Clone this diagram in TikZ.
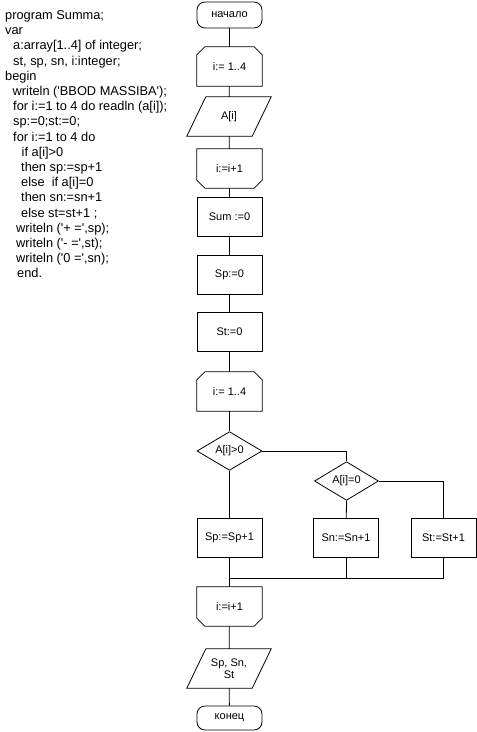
\documentclass[tikz,border=0pt]{standalone}
\usepackage{fontspec}
\setmainfont{Liberation Sans}
\newfontfamily\codefont{Liberation Sans}
\usetikzlibrary{shapes.geometric}
\begin{document}
\begin{tikzpicture}[x=1pt,y=-1pt,
  lw/.style={line width=0.8pt},
  code/.style={anchor=base west, inner sep=0pt, font=\codefont\fontsize{12.8}{15}\selectfont},
  base/.style={minimum width=65pt, minimum height=39pt, inner sep=0pt, align=center, font=\fontsize{11}{12.5}\selectfont},
  blk/.style={base, draw, lw},
  term/.style={base, draw, lw, rounded corners=8pt, minimum height=26pt},
  shp/.style={base, draw=none},
  para/.style={base, draw=none, minimum width=84pt},
  dec/.style={base, draw, lw, diamond, minimum height=38pt},
  conn/.style={lw}
]
\useasboundingbox (0,0) rectangle (477,732);

% code listing
\node[code] (c1)  at (5,19.5)   {program Summa;};
\node[code] (c2)  at (5,34.7)   {var};
\node[code] (c3)  at (13,49.9)  {a:array[1..4] of integer;};
\node[code] (c4)  at (13,65.1)  {st, sp, sn, i:integer;};
\node[code] (c5)  at (5,80.3)   {begin};
\node[code] (c6)  at (12.5,95.5) {writeln ('BBOD MASSIBA');};
\node[code] (c7)  at (13,110.6) {for i:=1 to 4 do readln (a[i]);};
\node[code] (c8)  at (13,125.8) {sp:=0;st:=0;};
\node[code] (c9)  at (13,141.0) {for i:=1 to 4 do};
\node[code] (c10) at (21.5,156.2) {if a[i]>0};
\node[code] (c11) at (21,171.4) {then sp:=sp+1};
\node[code] (c12) at (21,186.6) {else\ \ if a[i]=0};
\node[code] (c13) at (21,201.8) {then sn:=sn+1};
\node[code] (c14) at (21,217.0) {else st=st+1 ;};
\node[code] (c15) at (16,232.2) {writeln ('+ =',sp);};
\node[code] (c16) at (16,247.4) {writeln ('- =',st);};
\node[code] (c17) at (16,262.5) {writeln ('0 =',sn);};
\node[code] (c18) at (17,277.7) {end.};

% flowchart nodes
\node[term] (start) at (229.5,15)    {начало};
\node[shp]  (L1)    at (229.5,66.5)  {i:= 1..4};
\node[para] (A)     at (229,116.5)   {A[i]};
\node[shp]  (E1)    at (229.5,168.5) {i:=i+1};
\node[blk]  (Sum)   at (229.5,217)   {Sum :=0};
\node[blk]  (Sp0)   at (229.5,275)   {Sp:=0};
\node[blk]  (St0)   at (229.5,331.5) {St:=0};
\node[shp]  (L2)    at (229.5,391.5) {i:= 1..4};
\node[dec]  (D1)    at (229.5,451)   {A[i]>0};
\node[dec, minimum width=64pt] (D2) at (346.5,481) {A[i]=0};
\node[blk]  (P1)    at (229.5,538)   {Sp:=Sp+1};
\node[blk]  (N1)    at (346,538)     {Sn:=Sn+1};
\node[blk]  (T1)    at (443.5,538)   {St:=St+1};
\coordinate (M) at (229.5,578);
\node[shp]  (E2)    at (229.5,606.5) {i:=i+1};
\node[para] (Out)   at (229,668.5)   {Sp, Sn,\\St};
\node[term, minimum height=24pt] (fin) at (229.5,718) {конец};

% special shapes
\foreach \n in {L1,L2}
  \draw[lw] (\n.south west) -- ([yshift=-8pt]\n.north west) -- ([xshift=8pt]\n.north west)
    -- ([xshift=-8pt]\n.north east) -- ([yshift=-8pt]\n.north east) -- (\n.south east) -- cycle;
\foreach \n in {E1,E2}
  \draw[lw] (\n.north west) -- (\n.north east) -- ([yshift=8pt]\n.south east)
    -- ([xshift=-8pt]\n.south east) -- ([xshift=8pt]\n.south west) -- ([yshift=8pt]\n.south west) -- cycle;
\foreach \n in {A,Out}
  \draw[lw] (\n.south west) -- ([xshift=19pt]\n.north west) -- (\n.north east)
    -- ([xshift=-19pt]\n.south east) -- cycle;

% connectors
\draw[conn] (start) -- (L1);
\draw[conn] (L1) -- (A);
\draw[conn] (A) -- (E1);
\draw[conn] (E1) -- (Sum);
\draw[conn] (Sum) -- (Sp0);
\draw[conn] (Sp0) -- (St0);
\draw[conn] (St0) -- (L2);
\draw[conn] (L2) -- (D1);
\draw[conn] (D1) -- (P1);
\draw[conn] (D1.east) -| (D2.north);
\draw[conn] (D2.south) -- (N1);
\draw[conn] (D2.east) -| (T1.north);
\draw[conn] (P1) -- (E2);
\draw[conn] (N1.south) |- (M);
\draw[conn] (T1.south) |- (M);
\draw[conn] (E2) -- (Out);
\draw[conn] (Out) -- (fin);
\end{tikzpicture}
\end{document}
